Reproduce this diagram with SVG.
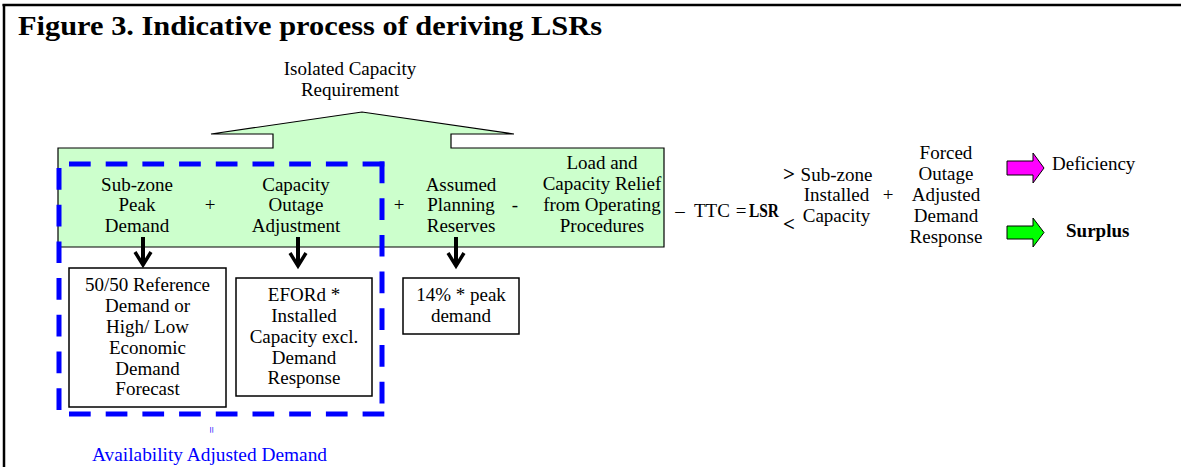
<svg xmlns="http://www.w3.org/2000/svg" width="1181" height="467" viewBox="0 0 1181 467">
<defs>
<style>
text{font-family:"Liberation Serif","Times New Roman",serif;font-size:19px;fill:#000}
.c{text-anchor:middle}
.b{font-weight:bold}
.blue{fill:#0000FF}
.box{fill:#fff;stroke:#000;stroke-width:1.5}
.dash{fill:none;stroke:#0000FF;stroke-width:5;stroke-dasharray:21.7 15}
.shaft{stroke:#000;stroke-width:4;fill:none}
.head{stroke:#000;stroke-width:3.5;fill:none;stroke-linejoin:miter}
.barrow{stroke:#000;stroke-width:1}
</style>
</defs>
<rect width="1181" height="467" fill="#fff"/>
<g id="frame">
<line x1="2.5" y1="5" x2="1181" y2="5" stroke="#000" stroke-width="2.5"/>
<line x1="4" y1="4" x2="4" y2="467" stroke="#000" stroke-width="2.5"/>
</g>
<g id="title"><text x="18" y="35" class="b" style="font-size:27px" textLength="584" lengthAdjust="spacingAndGlyphs">Figure 3. Indicative process of deriving LSRs</text></g>
<g id="isolated-capacity">
<path d="M58,148 H273 V134 H211 L362,112 L514,134 H451 V148 H664 V247 H58 Z" fill="#CCFFCC" stroke="#000" stroke-width="1.2"/>
<text x="350" y="75" class="c">Isolated Capacity</text>
<text x="350" y="96" class="c">Requirement</text>
</g>
<g id="peak-demand">
<text x="137" y="191" class="c">Sub-zone</text>
<text x="137" y="211" class="c">Peak</text>
<text x="137" y="232" class="c">Demand</text>
</g>
<text x="210" y="211" class="c">+</text>
<g id="capacity-outage">
<text x="296" y="191" class="c">Capacity</text>
<text x="296" y="211" class="c">Outage</text>
<text x="296" y="232" class="c">Adjustment</text>
</g>
<text x="399" y="211" class="c">+</text>
<g id="planning-reserves">
<text x="461" y="191" class="c">Assumed</text>
<text x="461" y="211" class="c">Planning</text>
<text x="461" y="232" class="c">Reserves</text>
</g>
<text x="515" y="211" class="c">-</text>
<g id="load-relief">
<text x="602" y="169" class="c">Load and</text>
<text x="602" y="190" class="c">Capacity Relief</text>
<text x="602" y="211" class="c">from Operating</text>
<text x="602" y="232" class="c">Procedures</text>
</g>
<g id="ttc-lsr">
<text x="680" y="217" class="c">–</text>
<text x="694" y="217">TTC</text>
<text x="741" y="217" class="c">=</text>
<text x="749" y="217" class="b" textLength="30" lengthAdjust="spacingAndGlyphs">LSR</text>
</g>
<g id="comparison">
<text x="789" y="181" class="c b" style="font-size:21px">&gt;</text>
<text x="789" y="231" class="c b" style="font-size:21px">&lt;</text>
</g>
<g id="installed-capacity">
<text x="836.5" y="181" class="c">Sub-zone</text>
<text x="836.5" y="201" class="c">Installed</text>
<text x="836.5" y="222" class="c">Capacity</text>
</g>
<text x="888" y="201" class="c">+</text>
<g id="forced-outage-dr">
<text x="946" y="159" class="c">Forced</text>
<text x="946" y="180" class="c">Outage</text>
<text x="946" y="201" class="c">Adjusted</text>
<text x="946" y="222" class="c">Demand</text>
<text x="946" y="243" class="c">Response</text>
</g>
<g id="deficiency">
<path class="barrow" d="M1007,161 H1033 V153 L1044,168 L1033,183 V175 H1007 Z" fill="#FF00FF"/>
<text x="1052" y="170">Deficiency</text>
</g>
<g id="surplus">
<path class="barrow" d="M1007,226 H1033 V218 L1044,232.5 L1033,247 V239 H1007 Z" fill="#00FF00"/>
<text x="1066" y="237" class="b">Surplus</text>
</g>
<g id="reference-demand">
<rect class="box" x="69" y="268" width="157" height="139"/>
<text x="147.5" y="291" class="c">50/50 Reference</text>
<text x="147.5" y="312" class="c">Demand or</text>
<text x="147.5" y="333" class="c">High/ Low</text>
<text x="147.5" y="354" class="c">Economic</text>
<text x="147.5" y="375" class="c">Demand</text>
<text x="147.5" y="395" class="c">Forecast</text>
</g>
<g id="eford">
<rect class="box" x="236" y="278" width="136" height="118"/>
<text x="304" y="301" class="c">EFORd *</text>
<text x="304" y="322" class="c">Installed</text>
<text x="304" y="343" class="c">Capacity excl.</text>
<text x="304" y="364" class="c">Demand</text>
<text x="304" y="384" class="c">Response</text>
</g>
<g id="peak-14">
<rect class="box" x="403" y="278" width="116" height="56"/>
<text x="461" y="301" class="c">14% * peak</text>
<text x="461" y="322" class="c">demand</text>
</g>
<g id="availability-adjusted-demand">
<path class="dash" d="M69,164 H384.5"/>
<path class="dash" d="M69,414 H384.5"/>
<path class="dash" d="M59,168 V410"/>
<path class="dash" d="M382,161.5 V416.5"/>
<text x="211" y="430" class="c blue" style="font-size:12px" transform="rotate(90 211 430)" dy="4">=</text>
<text x="92" y="461" class="blue" textLength="235" lengthAdjust="spacingAndGlyphs">Availability Adjusted Demand</text>
</g>
<g id="connectors">
<line class="shaft" x1="143" y1="237" x2="143" y2="265"/>
<polyline class="head" points="135,252 143,265 151,252"/>
<line class="shaft" x1="298" y1="237" x2="298" y2="266"/>
<polyline class="head" points="290,253 298,266 306,253"/>
<line class="shaft" x1="456" y1="237" x2="456" y2="266"/>
<polyline class="head" points="448,253 456,266 464,253"/>
</g>
</svg>
